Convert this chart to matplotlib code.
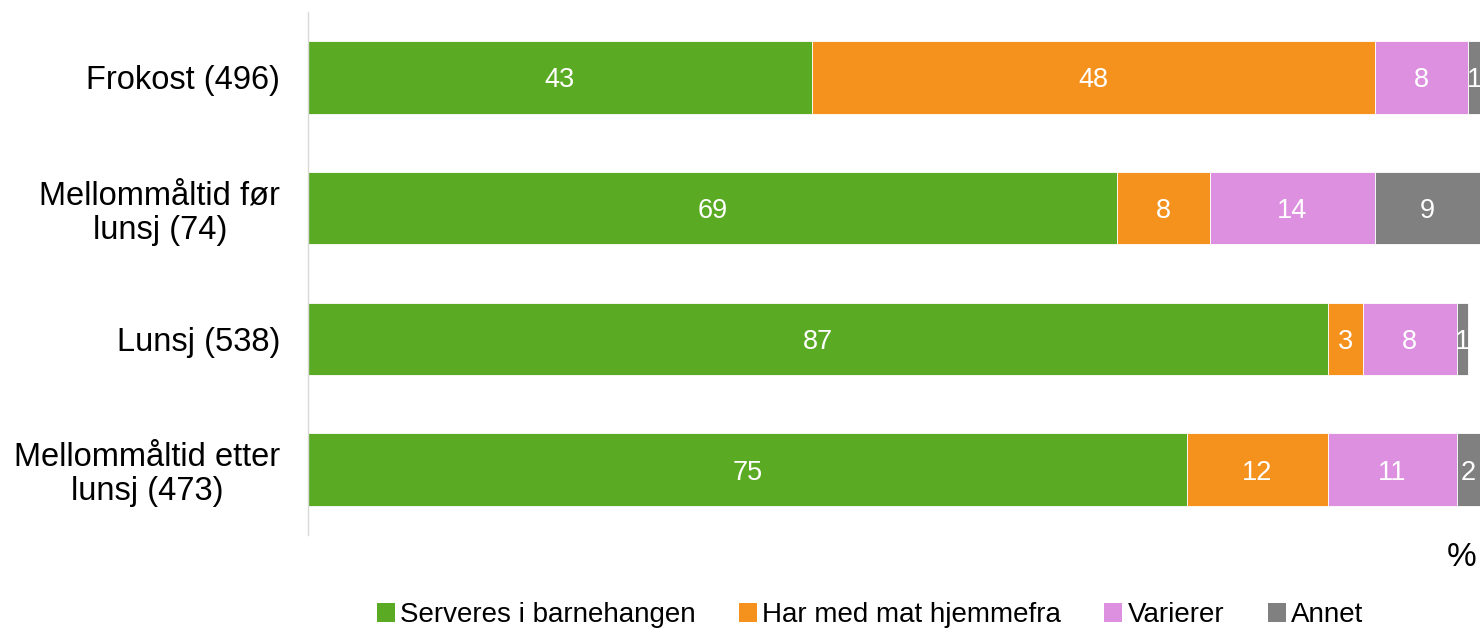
import matplotlib.pyplot as plt
from matplotlib.patches import Patch

plt.rcParams['font.family'] = ['Liberation Sans', 'DejaVu Sans']

categories = ['Frokost (496)', 'Mellommåltid før\nlunsj (74)', 'Lunsj (538)', 'Mellommåltid etter\nlunsj (473)']
series_names = ['Serveres i barnehangen', 'Har med mat hjemmefra', 'Varierer', 'Annet']
serveres = [43, 69, 87, 75]
hjemmefra = [48, 8, 3, 12]
varierer = [8, 14, 8, 11]
annet = [1, 9, 1, 2]
colors = ['#5aaa23', '#f5921e', '#dd8fe0', '#808080']

fig = plt.figure(figsize=(14.83, 6.29), dpi=100)
ax = fig.add_axes([308 / 1483, 1 - 535 / 629, 1172 / 1483, 523 / 629])

y = list(range(len(categories)))
left = [0] * len(categories)
for vals, col in zip([serveres, hjemmefra, varierer, annet], colors):
    bars = ax.barh(y, vals, left=left, height=0.555, color=col, edgecolor='white', linewidth=0.6)
    for b, v in zip(bars, vals):
        ax.text(b.get_x() + b.get_width() / 2, b.get_y() + b.get_height() / 2, str(v),
                ha='center', va='center_baseline', color='white', fontsize=19.5)
    left = [l + v for l, v in zip(left, vals)]

ax.set_xlim(0, 100)
ax.set_ylim(3.5, -0.5)
ax.set_yticks(y)
ax.set_yticklabels(categories, fontsize=23.5, linespacing=1.12, multialignment='center')
ax.tick_params(axis='y', length=0, pad=20)
ax.set_xticks([])
for s in ['top', 'right', 'bottom']:
    ax.spines[s].set_visible(False)
ax.spines['left'].set_color('#d9d9d9')
ax.spines['left'].set_linewidth(1)

fig.text(1462 / 1483, 1 - 557 / 629, '%', ha='center', va='center', fontsize=24)

handles = [Patch(facecolor=c, edgecolor='none') for c in colors]
fig.legend(handles, series_names, loc='center', bbox_to_anchor=(870 / 1483, 1 - 615 / 629),
           ncol=4, frameon=False, fontsize=20, handlelength=0.65, handleheight=0.65,
           handletextpad=0.2, columnspacing=1.55, borderaxespad=0)

fig.savefig('out.png', dpi=100)
